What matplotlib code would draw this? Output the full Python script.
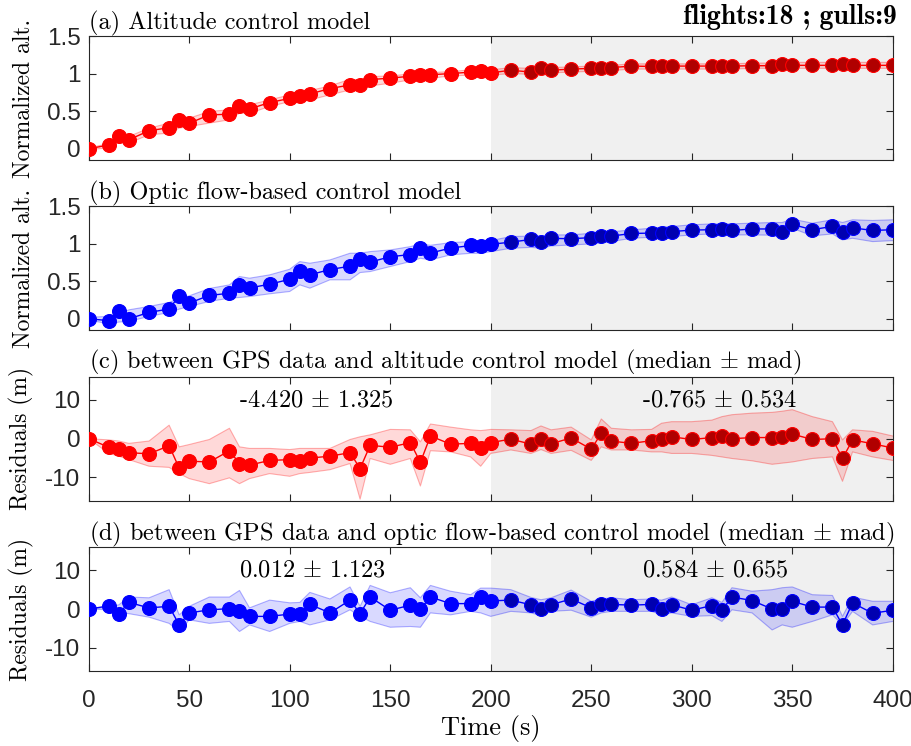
import matplotlib
matplotlib.use("Agg")
import matplotlib.pyplot as plt
import numpy as np

plt.rcParams['mathtext.fontset'] = 'cm'
plt.rcParams['axes.unicode_minus'] = False

# ---------------- data ----------------
time_s = [0, 10, 15, 20, 30, 40, 45, 50, 60, 70, 75, 80, 90, 100, 105, 110, 120, 130, 135, 140,
          150, 160, 165, 170, 180, 190, 195, 200, 210, 220, 225, 230, 240, 250, 255, 260, 270,
          280, 285, 290, 300, 310, 315, 320, 330, 340, 345, 350, 360, 370, 375, 380, 390, 400]

alt_model = [0.0, 0.05, 0.17, 0.12, 0.24, 0.28, 0.385, 0.34, 0.45, 0.46, 0.57, 0.53, 0.615, 0.67,
             0.70, 0.73, 0.80, 0.85, 0.845, 0.92, 0.94, 0.965, 0.98, 0.985, 1.0, 1.02, 1.03, 1.01,
             1.045, 1.02, 1.075, 1.045, 1.06, 1.07, 1.07, 1.08, 1.10, 1.095, 1.10, 1.10, 1.10,
             1.10, 1.105, 1.10, 1.105, 1.105, 1.125, 1.11, 1.11, 1.11, 1.13, 1.11, 1.11, 1.11]
alt_lo = [-0.01, 0.01, 0.097, 0.075, 0.186, 0.208, 0.274, 0.296, 0.341, 0.385, 0.473, 0.473, 0.562,
          0.628, 0.637, 0.650, 0.717, 0.783, 0.783, 0.836, 0.872, 0.916, 0.934, 0.938, 0.969,
          0.98, 0.99, 0.98, 1.00, 0.99, 1.03, 1.01, 1.02, 1.03, 1.04, 1.04, 1.06, 1.06, 1.06,
          1.06, 1.06, 1.06, 1.07, 1.06, 1.07, 1.07, 1.08, 1.07, 1.07, 1.07, 1.08, 1.07, 1.07, 1.07]
alt_hi = [0.01, 0.07, 0.186, 0.164, 0.274, 0.341, 0.407, 0.407, 0.496, 0.518, 0.628, 0.584, 0.650,
          0.717, 0.748, 0.774, 0.836, 0.925, 0.916, 0.960, 0.969, 0.996, 1.004, 1.013, 1.027,
          1.05, 1.06, 1.05, 1.08, 1.07, 1.10, 1.08, 1.09, 1.10, 1.10, 1.11, 1.13, 1.13, 1.13,
          1.13, 1.13, 1.13, 1.14, 1.13, 1.14, 1.14, 1.16, 1.15, 1.15, 1.15, 1.17, 1.15, 1.15, 1.15]

of_model = [0.0, -0.025, 0.105, 0.0, 0.085, 0.13, 0.305, 0.21, 0.31, 0.34, 0.445, 0.41, 0.46, 0.525,
            0.63, 0.585, 0.655, 0.70, 0.79, 0.755, 0.825, 0.855, 0.945, 0.875, 0.94, 0.975, 0.965,
            0.99, 1.02, 1.055, 1.02, 1.07, 1.065, 1.08, 1.10, 1.10, 1.135, 1.14, 1.14, 1.16, 1.18,
            1.185, 1.195, 1.175, 1.195, 1.195, 1.155, 1.255, 1.185, 1.23, 1.155, 1.21, 1.175, 1.185]
of_lo = [-0.02, -0.066, -0.044, -0.035, 0.031, 0.084, 0.128, 0.164, 0.230, 0.274, 0.283, 0.296,
         0.332, 0.363, 0.451, 0.407, 0.518, 0.518, 0.615, 0.628, 0.695, 0.761, 0.805, 0.783, 0.850,
         0.871, 0.871, 0.893, 0.938, 0.95, 0.938, 0.969, 0.982, 0.996, 1.013, 1.027, 1.071, 1.085,
         1.094, 1.094, 1.116, 1.129, 1.129, 1.116, 1.116, 1.112, 1.094, 1.205, 1.103, 1.129, 1.049,
         1.071, 1.027, 1.040]
of_hi = [0.02, 0.031, 0.066, 0.119, 0.164, 0.217, 0.274, 0.305, 0.403, 0.451, 0.562, 0.540, 0.584,
         0.659, 0.761, 0.739, 0.783, 0.872, 0.872, 0.894, 0.916, 0.960, 0.996, 0.978, 1.013, 1.027,
         1.031, 1.040, 1.094, 1.10, 1.094, 1.116, 1.116, 1.138, 1.147, 1.156, 1.183, 1.205, 1.219,
         1.228, 1.25, 1.263, 1.263, 1.263, 1.272, 1.281, 1.281, 1.326, 1.272, 1.317, 1.281, 1.317,
         1.308, 1.317]

res_alt = [0.0, -2.2, -2.6, -3.6, -3.9, -1.8, -7.6, -5.8, -6.0, -3.1, -6.4, -6.8, -5.6, -5.4, -5.7,
           -5.0, -4.5, -3.6, -7.7, -1.7, -2.2, -1.0, -6.1, 0.7, -1.4, -1.2, -2.3, -1.0, -0.1, -1.4,
           0.0, -1.3, 0.2, -2.7, 1.4, -0.6, -1.2, -0.5, -0.1, 0.5, -0.2, 0.3, 0.7, 0.0, 0.3, 0.3,
           0.5, 1.2, -0.2, 0.0, -5.1, -0.3, -1.3, -2.4]
res_alt_lo = [0.0, -3.8, -4.5, -5.4, -7.1, -7.4, -9.0, -10.3, -11.6, -10.1, -11.6, -10.3, -9.0, -9.7,
              -9.0, -8.7, -8.0, -6.4, -15.6, -5.1, -6.6, -5.1, -12.2, -3.1, -3.4, -4.7, -7.1, -3.8,
              -2.9, -3.8, -2.8, -3.8, -3.0, -5.6, -2.1, -2.9, -2.9, -3.4, -3.4, -3.8, -3.8, -4.3,
              -4.7, -5.1, -5.7, -6.6, -6.3, -6.0, -5.1, -4.7, -11.0, -3.4, -4.7, -5.6]
res_alt_hi = [0.0, -0.3, -0.6, -1.2, -0.6, 3.5, -2.1, -1.5, -0.2, 2.7, -2.1, -2.5, -2.5, -2.8, -2.5,
              -2.5, -2.5, -0.2, 0.5, 1.0, 2.4, 2.3, -0.8, 3.8, 3.0, 2.3, 2.1, 2.4, 2.3, 2.1, 3.3,
              2.3, 3.0, -0.3, 5.1, 2.7, 2.3, 2.4, 4.0, 4.4, 4.4, 4.8, 5.7, 6.2, 6.6, 6.8, 7.1, 7.5,
              5.7, 4.4, -0.3, 2.3, 1.9, 0.7]

res_of = [0.0, 0.8, -1.2, 1.7, 0.3, 0.7, -4.1, -1.0, -0.2, 0.1, -0.4, -1.9, -1.9, -1.3, -1.2, 1.2,
          -1.0, 2.3, -1.2, 3.1, -0.3, 1.0, 0.0, 3.1, 1.4, 1.4, 3.1, 2.1, 2.3, 1.1, 0.0, 1.1, 2.6,
          0.3, 1.4, 1.2, 1.0, 1.2, 0.0, 1.1, -0.3, 0.9, -0.3, 3.1, 2.2, 0.0, 0.0, 2.0, 0.5, 0.5,
          -4.1, 1.6, -1.1, -0.3]
res_of_lo = [0.0, -0.2, -1.0, -1.2, -2.1, -3.7, -5.8, -2.8, -3.7, -3.2, -5.8, -4.1, -5.8, -3.7, -3.2,
             -4.1, -2.8, -0.2, -1.9, -3.2, -4.7, -4.5, -4.7, -1.0, -1.5, -0.6, -1.0, -1.9, -0.6,
             -1.0, -1.7, -0.6, -0.3, -2.1, -1.0, -0.6, -0.6, -0.6, -1.5, -1.0, -1.9, -1.7, -3.2,
             -0.2, -1.0, -5.4, -4.1, -4.7, -3.2, -1.5, -4.1, -0.6, -4.1, -3.2]
res_of_hi = [0.0, 0.5, 1.1, 3.1, 2.9, 5.0, -1.5, 0.7, 3.1, 3.1, 4.8, 0.3, 2.3, 1.6, 1.7, 4.3, 2.6,
             5.7, 0.7, 6.1, 4.2, 5.5, 2.9, 6.1, 4.6, 3.7, 5.4, 5.4, 5.0, 3.0, 2.4, 2.9, 4.9, 2.0,
             2.6, 2.9, 2.4, 2.6, 2.3, 3.1, 1.1, 2.9, 1.7, 5.5, 4.6, 5.0, 5.5, 5.7, 3.7, 3.5, -1.9,
             3.1, 2.0, 2.0]

titles = ['(a) Altitude control model',
          '(b) Optic flow-based control model',
          r'(c) between GPS data and altitude control model (median $\pm$ mad)',
          r'(d) between GPS data and optic flow-based control model (median $\pm$ mad)']
stats_c = [r'-4.420 $\pm$ 1.325', r'-0.765 $\pm$ 0.534']
stats_d = [r'0.012 $\pm$ 1.123', r'0.584 $\pm$ 0.655']
stat_x = [75, 275]
info_text = 'flights:18 ; gulls:9'
x_ticks = [0, 50, 100, 150, 200, 250, 300, 350, 400]

# ---------------- plotting ----------------
fig = plt.figure(figsize=(9.12, 7.46), dpi=100)
left, width, height = 0.0973, 0.8816, 0.1662
bottoms = [0.7855, 0.5576, 0.3288, 0.1005]
axes = [fig.add_axes([left, b, width, height]) for b in bottoms]

red, dred = (1, 0, 0), (0.69, 0, 0)
blue, dblue = (0, 0, 1), (0, 0, 0.69)
serif = 'cmr10'
tick_font = 'Liberation Sans'

panels = [
    (alt_model, alt_lo, alt_hi, red, dred, (-0.15, 1.5), [0, 0.5, 1, 1.5], ['0', '0.5', '1', '1.5'], 'Normalized alt.'),
    (of_model, of_lo, of_hi, blue, dblue, (-0.15, 1.5), [0, 0.5, 1, 1.5], ['0', '0.5', '1', '1.5'], 'Normalized alt.'),
    (res_alt, res_alt_lo, res_alt_hi, red, dred, (-16, 16), [-10, 0, 10], ['-10', '0', '10'], 'Residuals (m)'),
    (res_of, res_of_lo, res_of_hi, blue, dblue, (-16, 16), [-10, 0, 10], ['-10', '0', '10'], 'Residuals (m)'),
]

t = np.array(time_s)
for i, (ax, (y, lo, hi, c, dc, ylim, yt, ytl, ylab)) in enumerate(zip(axes, panels)):
    ax.axvspan(200, 400, color='#f0f0f0', lw=0, zorder=0)
    ax.fill_between(t, lo, hi, facecolor=c, alpha=0.15, edgecolor='none', zorder=1)
    ax.plot(t, lo, color=c, alpha=0.3, lw=0.8, zorder=1)
    ax.plot(t, hi, color=c, alpha=0.3, lw=0.8, zorder=1)
    ax.plot(t, y, color=c, lw=1.0, zorder=2)
    yv = np.array(y)
    pre = t <= 200
    ax.plot(t[pre], yv[pre], 'o', ms=10, mfc=c, mec=c, mew=0.8, ls='none', zorder=3)
    ax.plot(t[~pre], yv[~pre], 'o', ms=10, mfc=dc, mec=c, mew=0.8, ls='none', zorder=3)
    ax.set_xlim(0, 400)
    ax.set_ylim(*ylim)
    ax.set_yticks(yt)
    ax.set_yticklabels(ytl, fontfamily=tick_font, fontsize=17.5)
    ax.set_xticks(x_ticks)
    if i == 3:
        ax.set_xticklabels([str(v) for v in x_ticks], fontfamily=tick_font, fontsize=17.5)
        ax.set_xlabel('Time (s)', fontfamily=serif, fontsize=19, labelpad=2)
    else:
        ax.set_xticklabels([])
    ax.tick_params(direction='in', top=True, right=True, length=5, width=0.8,
                   colors='#262626', labelcolor='#262626')
    ax.tick_params(axis='y', pad=6)
    ax.tick_params(axis='x', pad=14)
    ax.set_ylabel(ylab, fontfamily=serif, fontsize=17, labelpad=8)
    for s in ax.spines.values():
        s.set_color('#262626')
        s.set_linewidth(0.8)
    ax.set_title(titles[i], loc='left', fontfamily=serif, fontsize=17.5, pad=5)

axes[0].text(1.005, 1.045, info_text, transform=axes[0].transAxes, ha='right', va='bottom',
             fontfamily='cmb10', fontsize=20)

for ax, sts in ((axes[2], stats_c), (axes[3], stats_d)):
    for xs, s in zip(stat_x, sts):
        ax.text(xs, 10, s, ha='left', va='center', fontfamily=serif, fontsize=17.5, zorder=4)

fig.align_ylabels(axes)
fig.savefig('out.png', dpi=100)
